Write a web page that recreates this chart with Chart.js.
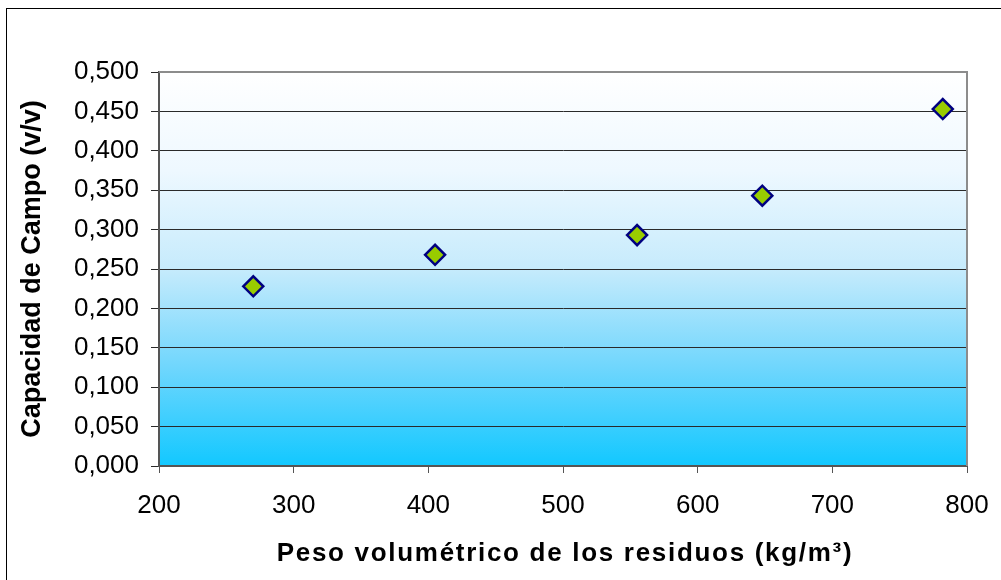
<!DOCTYPE html>
<html>
<head>
<meta charset="utf-8">
<script src="https://cdn.jsdelivr.net/npm/chart.js@4.4.1/dist/chart.umd.min.js"></script>
<style>
    html, body { margin: 0; padding: 0; background: #fff; }
    #wrap { width: 1001px; height: 580px; position: relative; }
</style>
</head>
<body>
<div id="wrap"><canvas id="chart"></canvas></div>
<script>
// --- data ---
const pesoVolumetrico = [270, 405, 555, 648, 782];
const capacidadCampo = [0.228, 0.268, 0.293, 0.343, 0.453];
const xTitle = 'Peso volumétrico de los residuos (kg/m³)';
const yTitle = 'Capacidad de Campo (v/v)';

const FONT = "'Liberation Sans', Arial, sans-serif";

// gradient behind the plot + outer frame + spaced x title
const decor = {
    id: 'decor',
    beforeDraw(chart) {
        const { ctx, chartArea: a } = chart;
        const g = ctx.createLinearGradient(0, a.top, 0, a.bottom);
        g.addColorStop(0, '#ffffff');
        g.addColorStop(0.25, '#eef8ff');
        g.addColorStop(0.5, '#c6ebfc');
        g.addColorStop(0.75, '#6fd6fd');
        g.addColorStop(1, '#12c8ff');
        ctx.save();
        ctx.fillStyle = g;
        ctx.fillRect(a.left, a.top, a.right - a.left, a.bottom - a.top);
        ctx.strokeStyle = '#000';
        ctx.lineWidth = 1;
        ctx.strokeRect(6.5, 8.5, 1200, 800);
        ctx.restore();
    },
    afterDraw(chart) {
        const { ctx, chartArea: a } = chart;
        ctx.save();
        // top and right edges of the plot
        ctx.strokeStyle = '#8c8c8c';
        ctx.lineWidth = 2;
        ctx.beginPath();
        ctx.moveTo(a.left, a.top);
        ctx.lineTo(a.right, a.top);
        ctx.lineTo(a.right, a.bottom);
        ctx.stroke();
        // x title
        ctx.fillStyle = '#000';
        ctx.font = 'bold 26px ' + FONT;
        ctx.letterSpacing = '1.7px';
        ctx.textAlign = 'center';
        ctx.textBaseline = 'middle';
        ctx.fillText(xTitle, (a.left + a.right) / 2 + 2, 554);
        ctx.restore();
    }
};

new Chart(document.getElementById('chart'), {
    type: 'scatter',
    data: {
        datasets: [{
            data: pesoVolumetrico.map((x, i) => ({ x, y: capacidadCampo[i] })),
            pointStyle: 'rectRot',
            pointRadius: 10,
            pointHoverRadius: 10,
            pointBackgroundColor: '#99cc00',
            pointBorderColor: '#000080',
            pointBorderWidth: 2.5
        }]
    },
    options: {
        responsive: true,
        maintainAspectRatio: false,
        animation: false,
        layout: { padding: { top: 72, right: 34, bottom: 0, left: 0 } },
        plugins: { legend: { display: false }, tooltip: { enabled: false } },
        scales: {
            x: {
                type: 'linear',
                min: 200, max: 800,
                afterFit: s => { s.height = 114; s.paddingRight = 0; s.paddingLeft = 0; },
                ticks: { stepSize: 100, color: '#000', padding: 17, font: { family: FONT, size: 26 } },
                grid: { drawOnChartArea: false, drawTicks: true, tickLength: 7, color: '#555', lineWidth: 1 },
                border: { color: '#555', width: 2 }
            },
            y: {
                min: 0, max: 0.5,
                afterFit: s => { s.width = 159; },
                ticks: {
                    stepSize: 0.05, color: '#000', padding: 12,
                    font: { family: FONT, size: 26 },
                    callback: v => v.toFixed(3).replace('.', ',')
                },
                grid: { color: '#2a2a2a', lineWidth: 1, tickLength: 8 },
                border: { color: '#555', width: 2 },
                title: { display: true, text: yTitle, color: '#000', padding: { top: 16, bottom: 0 }, font: { family: FONT, size: 27, weight: 'bold' } }
            }
        }
    },
    plugins: [decor]
});
</script>
</body>
</html>
